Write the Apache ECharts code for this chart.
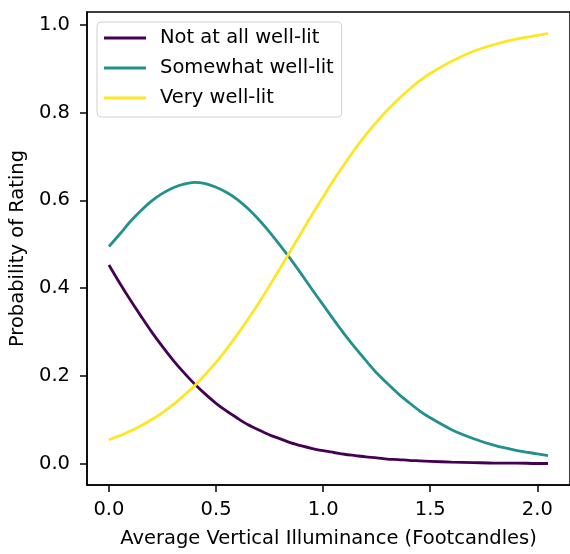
<!DOCTYPE html>
<html>
<head>
<meta charset="utf-8">
<script src="https://cdn.jsdelivr.net/npm/echarts@6/dist/echarts.min.js"></script>
<style>
html,body{margin:0;padding:0;background:#fff;}
#c{width:570px;height:554px;}
</style>
</head>
<body>
<div id="c"></div>
<script>
const xValues = [0.0,0.05,0.1,0.15,0.2,0.25,0.3,0.35,0.4,0.45,0.5,0.55,0.6,0.65,0.7,0.75,0.8,0.85,0.9,0.95,1.0,1.05,1.1,1.15,1.2,1.25,1.3,1.35,1.4,1.45,1.5,1.6,1.7,1.8,1.9,2.0,2.05];
const notAtAll = [0.453,0.412,0.373,0.336,0.300,0.267,0.236,0.208,0.182,0.159,0.138,0.120,0.104,0.089,0.077,0.066,0.057,0.048,0.041,0.035,0.030,0.026,0.022,0.019,0.016,0.014,0.011,0.010,0.008,0.007,0.006,0.004,0.003,0.002,0.002,0.001,0.001];
const somewhat = [0.495,0.523,0.552,0.577,0.599,0.616,0.629,0.637,0.641,0.638,0.630,0.618,0.602,0.581,0.556,0.528,0.497,0.465,0.431,0.396,0.362,0.328,0.295,0.264,0.235,0.207,0.183,0.160,0.140,0.121,0.105,0.078,0.058,0.042,0.031,0.023,0.019];
const very = [0.055,0.064,0.075,0.087,0.101,0.117,0.135,0.156,0.178,0.204,0.231,0.262,0.295,0.330,0.367,0.406,0.446,0.487,0.528,0.569,0.608,0.647,0.683,0.718,0.750,0.779,0.806,0.830,0.852,0.872,0.889,0.917,0.939,0.955,0.967,0.976,0.980];
const seriesNames = ["Not at all well-lit","Somewhat well-lit","Very well-lit"];
const xTicks = [0.0,0.5,1.0,1.5,2.0];
const yTicks = [0.0,0.2,0.4,0.6,0.8,1.0];
const colors = ["#440154","#21918c","#fde725"];

const font = "DejaVu Sans";
const fs = 19.5;
const chart = echarts.init(document.getElementById('c'), null, {renderer:'canvas'});
const mk = (name, vals, i) => ({
  name: name,
  type: 'line',
  data: xValues.map((x, k) => [x, vals[k]]),
  smooth: 0.3,
  showSymbol: false,
  symbol: 'none',
  lineStyle: {color: colors[i], width: 2.8},
  itemStyle: {color: colors[i]},
  animation: false
});
chart.setOption({
  animation: false,
  grid: {left: 87, top: 12, width: 485, height: 481, show: true, borderColor: '#000', borderWidth: 1.5, containLabel: false},
  legend: {
    orient: 'vertical', left: 97, top: 22,
    data: seriesNames.map((n, i) => ({name: n, itemStyle: {color: colors[i]}})),
    icon: 'rect', itemWidth: 42, itemHeight: 3, itemGap: 10,
    textStyle: {fontFamily: font, fontSize: fs, color: '#000', lineHeight: 20, padding: [0,0,0,9]},
    backgroundColor: 'rgba(255,255,255,0.8)', borderColor: '#d0d0d0', borderWidth: 1, borderRadius: 4,
    padding: [6, 8, 9, 7]
  },
  xAxis: {
    type: 'value', min: -0.1025, max: 2.1525,
    name: 'Average Vertical Illuminance (Footcandles)', nameLocation: 'middle', nameGap: 44,
    nameTextStyle: {fontFamily: font, fontSize: fs, color: '#000'},
    axisLine: {show: true, onZero: false, lineStyle: {color: '#000', width: 1.5}},
    axisTick: {show: true, length: 7, customValues: xTicks, lineStyle: {color: '#000', width: 1.5}},
    axisLabel: {customValues: xTicks, formatter: v => v.toFixed(1), fontFamily: font, fontSize: fs, color: '#000', margin: 15},
    splitLine: {show: false}
  },
  yAxis: {
    type: 'value', min: -0.048, max: 1.029,
    name: 'Probability of Rating', nameLocation: 'middle', nameGap: 59, nameRotate: 90,
    nameTextStyle: {fontFamily: font, fontSize: fs, color: '#000'},
    axisLine: {show: true, onZero: false, lineStyle: {color: '#000', width: 1.5}},
    axisTick: {show: true, length: 7, customValues: yTicks, lineStyle: {color: '#000', width: 1.5}},
    axisLabel: {customValues: yTicks, formatter: v => v.toFixed(1), fontFamily: font, fontSize: fs, color: '#000', margin: 17},
    splitLine: {show: false}
  },
  series: [mk(seriesNames[0], notAtAll, 0), mk(seriesNames[1], somewhat, 1), mk(seriesNames[2], very, 2)]
});
</script>
</body>
</html>
